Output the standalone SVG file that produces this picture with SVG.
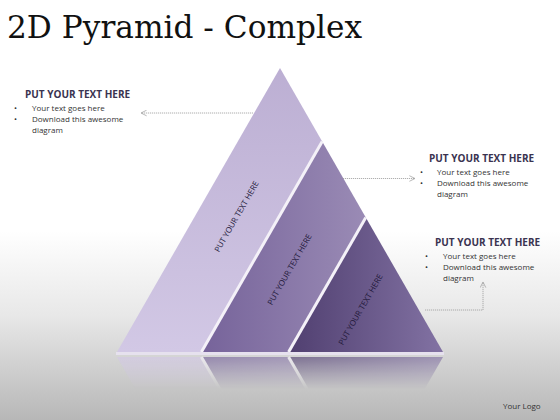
<svg xmlns="http://www.w3.org/2000/svg" width="560" height="420" viewBox="0 0 560 420">
<defs>
<linearGradient id="bg" x1="0" y1="0" x2="0" y2="1">
<stop offset="0" stop-color="#ffffff"/>
<stop offset="0.55" stop-color="#ffffff"/>
<stop offset="0.75" stop-color="#e8e8e8"/>
<stop offset="1" stop-color="#b7b7b7"/>
</linearGradient>
<linearGradient id="g1" x1="0" y1="0" x2="0" y2="1">
<stop offset="0" stop-color="#bcafd3"/>
<stop offset="1" stop-color="#d2c8e5"/>
</linearGradient>
<linearGradient id="g2" x1="0" y1="0" x2="1" y2="0">
<stop offset="0" stop-color="#76639a"/>
<stop offset="1" stop-color="#9a8bb5"/>
</linearGradient>
<linearGradient id="g3" x1="0" y1="0" x2="1" y2="0">
<stop offset="0" stop-color="#503f70"/>
<stop offset="1" stop-color="#8272a3"/>
</linearGradient>
<linearGradient id="fade" x1="0" y1="0" x2="0" y2="1">
<stop offset="0" stop-color="#fff" stop-opacity="0.7"/>
<stop offset="1" stop-color="#fff" stop-opacity="0"/>
</linearGradient>
<mask id="rm" maskUnits="userSpaceOnUse" x="100" y="354" width="360" height="40">
<rect x="100" y="355" width="360" height="34" fill="url(#fade)"/>
</mask>
<marker id="ah" viewBox="0 0 10 10" refX="9" refY="5" markerWidth="7" markerHeight="7" orient="auto-start-reverse" markerUnits="userSpaceOnUse">
<path d="M1,1 L9,5 L1,9" fill="none" stroke="#999" stroke-width="1"/>
</marker>
</defs>
<style>
.ttl{font-family:"DejaVu Serif",serif;font-size:31px;fill:#111}
.hd{font-family:"Open Sans","Liberation Sans",sans-serif;font-weight:bold;font-size:10px;fill:#3a3350}
.bt{font-family:"Open Sans","Liberation Sans",sans-serif;font-size:8px;fill:#333}
.pl{font-family:"Open Sans","Liberation Sans",sans-serif;font-size:8px;fill:#22183a}
.sep{stroke:#f4f1f8;stroke-width:3}
.cn{fill:none;stroke:#9a9a9a;stroke-width:0.8;stroke-dasharray:1.2 0.8}
</style>
<rect x="0" y="0" width="560" height="420" fill="url(#bg)"/>
<text class="ttl" x="7" y="38" textLength="355" lengthAdjust="spacingAndGlyphs">2D Pyramid - Complex</text>

<g id="reflection" mask="url(#rm)">
<g transform="translate(0,709) scale(1,-1)">
<polygon points="280,68 117,352 201.4,352 322.2,141.5" fill="url(#g1)"/>
<polygon points="322.2,141.5 201.4,352 288.6,352 365.8,217.5" fill="url(#g2)"/>
<polygon points="365.8,217.5 288.6,352 443,352" fill="url(#g3)"/>
<line class="sep" x1="322.2" y1="141.5" x2="201.4" y2="352"/>
<line class="sep" x1="365.8" y1="217.5" x2="288.6" y2="352"/>
</g>
</g>

<g id="band1">
<polygon points="280,68 117,352 201.4,352 322.2,141.5" fill="url(#g1)"/>
<text class="pl" transform="translate(239,218) rotate(-60)" text-anchor="middle">PUT YOUR TEXT HERE</text>
</g>
<g id="band2">
<polygon points="322.2,141.5 201.4,352 288.6,352 365.8,217.5" fill="url(#g2)"/>
<text class="pl" transform="translate(292,271) rotate(-60)" text-anchor="middle">PUT YOUR TEXT HERE</text>
</g>
<g id="band3">
<polygon points="365.8,217.5 288.6,352 443,352" fill="url(#g3)"/>
<text class="pl" transform="translate(363,311) rotate(-60)" text-anchor="middle">PUT YOUR TEXT HERE</text>
</g>
<g id="dividers">
<line class="sep" x1="322.2" y1="141.5" x2="201.4" y2="352"/>
<line class="sep" x1="365.8" y1="217.5" x2="288.6" y2="352"/>
<rect x="116" y="352" width="328" height="3" fill="#e6e1ee"/>
</g>

<g id="connectors">
<line class="cn" x1="253" y1="113" x2="141" y2="113" marker-end="url(#ah)"/>
<line class="cn" x1="343" y1="178.5" x2="415" y2="178.5" marker-end="url(#ah)"/>
<polyline class="cn" points="425,310 483,310 483,282" marker-end="url(#ah)"/>
</g>

<g id="text1">
<text class="hd" x="25" y="98">PUT YOUR TEXT HERE</text>
<text class="bt" x="14" y="111">•</text>
<text class="bt" x="32" y="111">Your text goes here</text>
<text class="bt" x="14" y="122">•</text>
<text class="bt" x="32" y="122">Download this awesome</text>
<text class="bt" x="32" y="133">diagram</text>
</g>
<g id="text2">
<text class="hd" x="429" y="162">PUT YOUR TEXT HERE</text>
<text class="bt" x="420" y="175">•</text>
<text class="bt" x="437" y="175">Your text goes here</text>
<text class="bt" x="420" y="186">•</text>
<text class="bt" x="437" y="186">Download this awesome</text>
<text class="bt" x="437" y="197">diagram</text>
</g>
<g id="text3">
<text class="hd" x="435" y="246">PUT YOUR TEXT HERE</text>
<text class="bt" x="425" y="259">•</text>
<text class="bt" x="443" y="259">Your text goes here</text>
<text class="bt" x="425" y="270">•</text>
<text class="bt" x="443" y="270">Download this awesome</text>
<text class="bt" x="443" y="281">diagram</text>
</g>
<text class="bt" x="503" y="409">Your Logo</text>
</svg>
